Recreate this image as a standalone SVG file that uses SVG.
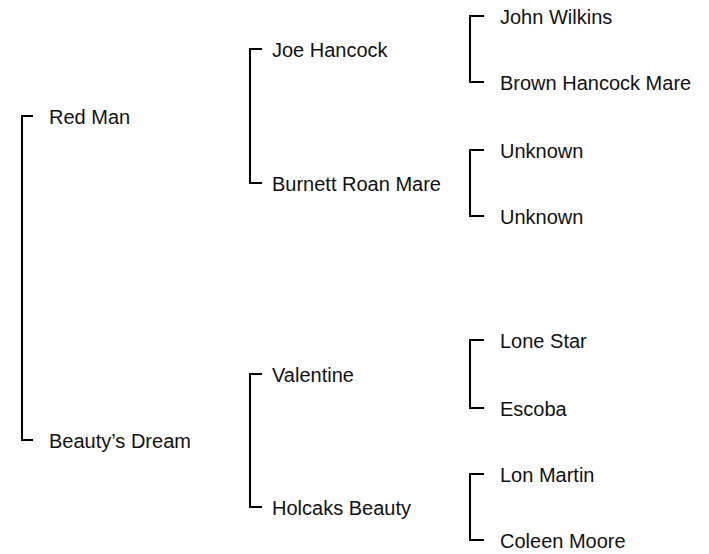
<svg xmlns="http://www.w3.org/2000/svg" width="709" height="554" viewBox="0 0 709 554">
<style>
.c{fill:none;stroke:#000;stroke-width:2;stroke-linecap:butt;stroke-linejoin:miter}
.t{font-family:"Liberation Sans",Arial,sans-serif;font-size:20px;fill:#111}
</style>
<rect width="709" height="554" fill="#fff"/>
<g id="connectors">
<path class="c" d="M33,116 H22 V440 H33"/>
<path class="c" d="M262,49 H250 V183 H262"/>
<path class="c" d="M262,374 H250 V507 H262"/>
<path class="c" d="M484,16 H470 V82 H484"/>
<path class="c" d="M484,150 H470 V216 H484"/>
<path class="c" d="M484,340 H470 V408 H484"/>
<path class="c" d="M484,474 H470 V540 H484"/>
</g>
<g id="red-man"><text class="t" x="49" y="124">Red Man</text></g>
<g id="beautys-dream"><text class="t" x="49" y="448">Beauty’s Dream</text></g>
<g id="joe-hancock"><text class="t" x="272" y="57">Joe Hancock</text></g>
<g id="burnett-roan-mare"><text class="t" x="272" y="191">Burnett Roan Mare</text></g>
<g id="valentine"><text class="t" x="272" y="382">Valentine</text></g>
<g id="holcaks-beauty"><text class="t" x="272" y="515">Holcaks Beauty</text></g>
<g id="john-wilkins"><text class="t" x="500" y="24">John Wilkins</text></g>
<g id="brown-hancock-mare"><text class="t" x="500" y="90">Brown Hancock Mare</text></g>
<g id="unknown-1"><text class="t" x="500" y="158">Unknown</text></g>
<g id="unknown-2"><text class="t" x="500" y="224">Unknown</text></g>
<g id="lone-star"><text class="t" x="500" y="348">Lone Star</text></g>
<g id="escoba"><text class="t" x="500" y="416">Escoba</text></g>
<g id="lon-martin"><text class="t" x="500" y="482">Lon Martin</text></g>
<g id="coleen-moore"><text class="t" x="500" y="548">Coleen Moore</text></g>
</svg>
